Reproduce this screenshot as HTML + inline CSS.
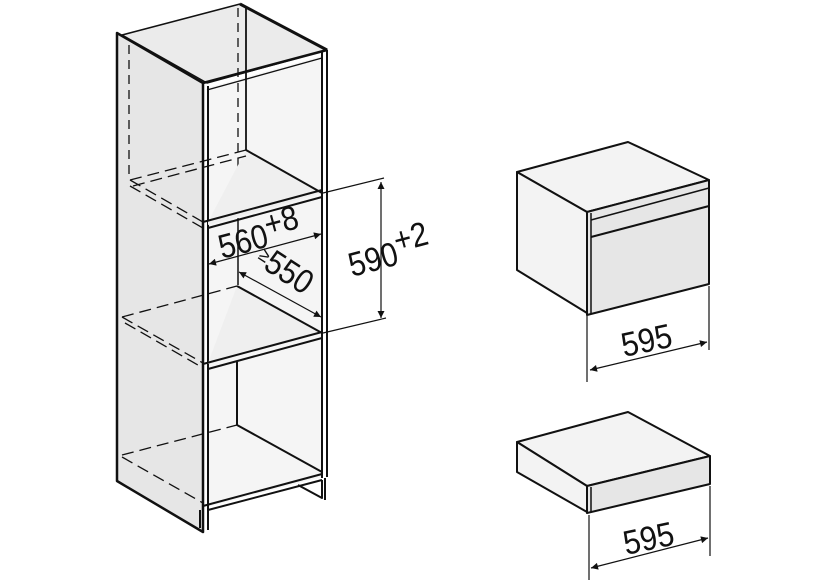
<!DOCTYPE html>
<html><head><meta charset="utf-8"><style>
html,body{margin:0;padding:0;background:#fff;}
svg{display:block}
text{font-family:"Liberation Sans",sans-serif;fill:#111}
</style></head><body>
<svg width="828" height="581" viewBox="0 0 828 581" xmlns="http://www.w3.org/2000/svg">
<defs>
<marker id="a" viewBox="0 0 10 10" refX="10" refY="5" markerWidth="13" markerHeight="7" orient="auto-start-reverse" markerUnits="userSpaceOnUse"><path d="M0,0L10,5L0,10z" fill="#111"/></marker>
</defs>
<g stroke="#111" fill="none" stroke-linejoin="round">
<path d="M117,33 L203,83 L203,532 L117,481 Z" fill="#e6e6e6" stroke-width="2.5"/>
<path d="M122,35 L240,4 L327,50 L207,83 Z" fill="#ebebeb" stroke-width="1.5"/>
<path d="M240,4 L327,50" stroke-width="3"/>
<path d="M207,88 L322,56 L322,477 L207,507 Z" fill="#f5f5f5" stroke="none"/>
<path d="M203,83 L327,50" stroke-width="2.5"/>
<path d="M207,90 L322,58" stroke-width="1.3"/>
<path d="M203,83 L203,532 M208,86 L208,530" stroke-width="2"/>
<path d="M322,52 L322,478 M327,50 L327,477" stroke-width="2"/>
<path d="M246,8 L246,150" stroke-width="1.8"/>
<path d="M238,8 L238,220 M129,45 L129,178" stroke-dasharray="9,6" stroke-width="1.3"/>
<path d="M238,220 L238,285" stroke-width="1.5"/>
<path d="M208,222 L246,150 L322,193 L208,225 Z" fill="#efefef" stroke="none"/>
<path d="M246,150 L322,193" stroke-width="2"/>
<path d="M130,180 L246,150 M133,186 L246,156" stroke-dasharray="12,6" stroke-width="1.3"/>
<path d="M130,180 L203,222 M130,186 L203,228" stroke-dasharray="12,6" stroke-width="1.3"/>
<path d="M203,222 L322,190 M208,228 L322,197" stroke-width="2"/>
<path d="M208,363 L237,286 L322,333 L208,364 Z" fill="#efefef" stroke="none"/>
<path d="M237,286 L322,333" stroke-width="2"/>
<path d="M122,317 L237,286" stroke-dasharray="12,6" stroke-width="1.3"/>
<path d="M122,317 L203,363 M125,323 L203,368" stroke-dasharray="12,6" stroke-width="1.3"/>
<path d="M203,364 L322,332 M208,369 L322,338" stroke-width="2"/>
<path d="M237,362 L237,425" stroke-width="2"/>
<path d="M237,425 L322,472" stroke-width="2"/>
<path d="M122,455 L237,425" stroke-dasharray="12,6" stroke-width="1.3"/>
<path d="M122,457 L203,503" stroke-dasharray="12,6" stroke-width="1.3"/>
<path d="M203,506 L322,474 M208,510 L322,480" stroke-width="2"/>
<path d="M298,485 L322,498 L322,480 M325,478 L325,500" stroke-width="2"/>
<path d="M203,507 L203,532 M200,510 L200,528" stroke-width="2"/>
<path d="M323,193 L384,178 M323,333 L386,318" stroke-width="1.2"/>
<path d="M381,182 L381,318" stroke-width="1.2" marker-start="url(#a)" marker-end="url(#a)"/>
<path d="M209,264 L321,234" stroke-width="1.2" marker-start="url(#a)" marker-end="url(#a)"/>
<path d="M239,272 L321,317" stroke-width="1.2" marker-start="url(#a)" marker-end="url(#a)"/>

<path d="M517,172 L628,142 L709,180 L587,212 Z" fill="#f3f3f3" stroke-width="2"/>
<path d="M517,172 L587,212 L587,313 L517,270 Z" fill="#f3f3f3" stroke-width="2"/>
<path d="M587,212 L709,180 L709,284 L587,315 Z" fill="#e6e6e6" stroke-width="2"/>
<path d="M591,213 L591,314" stroke-width="1.5"/>
<path d="M591,220 L709,188" stroke-width="1.5"/>
<path d="M591,237 L709,206" stroke-width="2"/>
<path d="M587,316 L587,382 M709,286 L709,350" stroke-width="1.2"/>
<path d="M590,370 L707,342" stroke-width="1.2" marker-start="url(#a)" marker-end="url(#a)"/>
<path d="M517,442 L628,412 L710,456 L587,486 Z" fill="#f3f3f3" stroke-width="2"/>
<path d="M517,442 L587,486 L587,512 L517,472 Z" fill="#f3f3f3" stroke-width="2"/>
<path d="M587,486 L710,456 L710,484 L587,513 Z" fill="#e6e6e6" stroke-width="2"/>
<path d="M591,487 L591,512" stroke-width="1.5"/>
<path d="M589,515 L589,580 M710,486 L710,556" stroke-width="1.2"/>
<path d="M591,568 L708,538" stroke-width="1.2" marker-start="url(#a)" marker-end="url(#a)"/>
</g>
<g transform="translate(222,259) rotate(-15)"><text font-size="34" transform="scale(0.88,1)">560<tspan dy="-10">+8</tspan></text></g>
<g transform="translate(254,263) rotate(33)"><text font-size="34" transform="scale(0.88,1)"><tspan font-size="20" dy="-6">≥</tspan><tspan dy="6">550</tspan></text></g>
<g transform="translate(352,277) rotate(-15)"><text font-size="34" transform="scale(0.88,1)">590<tspan dy="-12">+2</tspan></text></g>
<g transform="translate(624,357) rotate(-12)"><text font-size="34" transform="scale(0.9,1)">595</text></g>
<g transform="translate(626,555) rotate(-12)"><text font-size="34" transform="scale(0.9,1)">595</text></g>
</svg>
</body></html>
